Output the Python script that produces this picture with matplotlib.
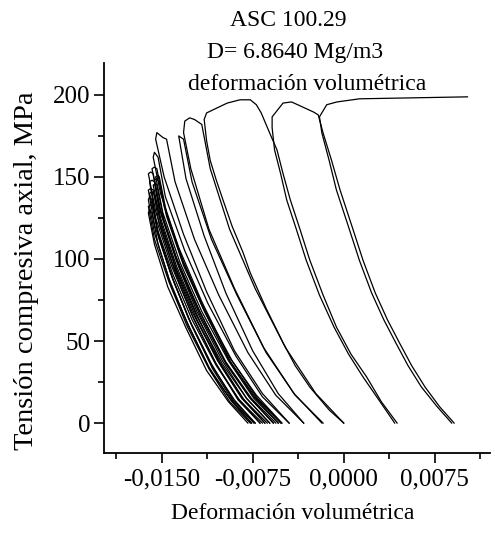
import matplotlib
matplotlib.use('Agg')
import matplotlib.pyplot as plt

# strain values are stored in units of 1e-4 (so -150 means -0,0150), stress in MPa
# early loading cycles (the dense bundle on the left)
bundle_eps = [
    [-79, -95, -113, -130, -145, -156, -161, -160, -158, -153, -142, -127, -110, -92, -76],
    [-77, -94, -111, -129, -144, -156, -161, -159, -157, -152, -140, -125, -108, -91, -74],
    [-76, -93, -111, -129, -144, -156, -161, -160, -158, -153, -141, -126, -108, -90, -73],
    [-73, -91, -109, -128, -143, -156, -161, -159, -157, -152, -139, -124, -105, -87, -69],
    [-69, -87, -106, -125, -142, -155, -160, -158, -156, -151, -138, -121, -102, -83, -65],
    [-67, -86, -105, -125, -141, -154, -160, -158, -156, -150, -137, -121, -101, -82, -63],
    [-65, -84, -104, -125, -142, -155, -161, -159, -157, -151, -138, -121, -100, -80, -61],
    [-61, -80, -100, -121, -138, -151, -157, -155, -154, -148, -135, -118, -97, -77, -58],
    [-58, -78, -99, -120, -138, -152, -158, -156, -154, -148, -134, -116, -95, -74, -54],
    [-56, -76, -97, -118, -136, -150, -156, -154, -152, -146, -132, -114, -93, -72, -52],
    [-54, -74, -95, -117, -135, -149, -155, -153, -152, -146, -132, -114, -92, -71, -51],
]
bundle_sig = [
    [0, 13, 32, 58, 83, 109, 128, 130, 128, 109, 83, 58, 32, 13, 0],
    [0, 13, 33, 59, 86, 112, 132, 133, 131, 112, 86, 59, 33, 13, 0],
    [0, 14, 34, 61, 88, 116, 136, 138, 136, 116, 88, 61, 34, 14, 0],
    [0, 14, 36, 64, 92, 121, 142, 143, 142, 121, 92, 64, 36, 14, 0],
    [0, 15, 37, 66, 96, 125, 147, 148, 147, 125, 96, 66, 37, 15, 0],
    [0, 14, 35, 63, 91, 119, 140, 141, 139, 119, 91, 63, 35, 14, 0],
    [0, 15, 38, 68, 99, 129, 152, 153, 152, 129, 99, 68, 38, 15, 0],
    [0, 15, 36, 65, 94, 123, 145, 146, 145, 123, 94, 65, 36, 15, 0],
    [0, 16, 39, 70, 101, 132, 155, 156, 155, 132, 101, 70, 39, 16, 0],
    [0, 15, 37, 67, 96, 126, 148, 149, 147, 126, 96, 67, 37, 15, 0],
    [0, 15, 38, 68, 98, 128, 150, 151, 150, 128, 98, 68, 38, 15, 0],
]

# middle cycles, peaks 165 .. 186 MPa
mid_eps = [
    [-51, -72, -95, -117, -136, -151, -157, -156, -153, -147, -131, -112, -89, -67, -45],
    [-45, -67, -90, -113, -132, -148, -155, -154, -149, -146, -139, -123, -103, -79, -56, -33],
    [-33, -54, -75, -97, -115, -130, -136, -134, -132, -125, -109, -88, -64, -40, -17],
    [-18, -41, -66, -90, -111, -126, -132, -131, -127, -123, -117, -110, -94, -73, -48, -23, 0],
]
mid_sig = [
    [0, 17, 41, 74, 107, 140, 162, 165, 162, 138, 105, 73, 41, 16, 0],
    [0, 18, 44, 80, 115, 150, 173, 177, 174, 173, 147, 112, 78, 43, 17, 0],
    [0, 18, 44, 79, 114, 149, 175, 174, 173, 147, 112, 78, 43, 17, 0],
    [0, 18, 46, 82, 118, 155, 177, 184, 186, 185, 182, 155, 118, 82, 46, 18, 0],
]

# last three cycles
cyc_a_eps = [0, -12, -28, -40, -50, -64, -77, -83, -92, -99.5, -105, -110, -113, -115,
             -113, -96, -85.5, -77, -72, -68,
             -64, -60, -55, -50, -44, -36, -28, -17, -6, 6, 19, 31, 44]
cyc_a_sig = [0, 8, 22, 35, 49, 70, 91.5, 104, 120, 136, 148, 160, 172, 185,
             189, 195, 197, 197, 194, 189,
             182, 175, 166.5, 152, 136, 118, 99.4, 78, 58.5, 42, 28, 13, 0]
cyc_b_eps = [42, 30, 16, 4, -8, -20, -31, -39, -47, -52, -57, -59, -59,
             -50, -43, -25, -21,
             -17, -10, -3, 7, 16, 26, 36, 46, 56, 67, 79, 91]
cyc_b_sig = [0, 13, 28, 42, 58.5, 78, 99.4, 118, 136, 152, 166.5, 180, 186.6,
             195, 195.7, 189.6, 187.8,
             176.8, 160, 142, 119.5, 99, 79.3, 63, 48.8, 35, 22, 10, 0]
cyc_c_eps = [89, 77, 64, 53, 43, 33, 23, 13, 4, -6, -12, -18, -20,
             -14, -5.5, 13, 102]
cyc_c_sig = [0, 10, 22, 35, 48.8, 63, 79.3, 99, 119.5, 142, 160, 176.8, 186.6,
             194, 195.7, 197.6, 198.8]

xtick_vals = [-150, -75, 0, 75]
xtick_labels = ['-0,0150', '-0,0075', '0,0000', '0,0075']
xtick_minor = [-187.5, -112.5, -37.5, 37.5, 112.5]
ytick_vals = [0, 50, 100, 150, 200]
ytick_minor = [25, 75, 125, 175]

plt.rcParams['font.family'] = ['Liberation Serif', 'DejaVu Serif']

fig = plt.figure(figsize=(4.95, 5.42), dpi=100)
ax = fig.add_axes([0.210, 0.164, 0.780, 0.720])

line_kw = dict(color='black', lw=0.9)
for xs, ys in zip(bundle_eps, bundle_sig):
    ax.plot(xs, ys, **line_kw)
for xs, ys in zip(mid_eps, mid_sig):
    ax.plot(xs, ys, **line_kw)
ax.plot(cyc_a_eps, cyc_a_sig, **line_kw)
ax.plot(cyc_b_eps, cyc_b_sig, **line_kw)
ax.plot(cyc_c_eps, cyc_c_sig, **line_kw)

ax.set_xlim(-197.6, 120.6)
ax.set_ylim(-18.3, 219.5)
ax.set_xticks(xtick_vals)
ax.set_xticklabels(xtick_labels)
ax.set_xticks(xtick_minor, minor=True)
ax.set_yticks(ytick_vals)
ax.set_yticks(ytick_minor, minor=True)

for side in ['top', 'right']:
    ax.spines[side].set_visible(False)
for side in ['left', 'bottom']:
    ax.spines[side].set_linewidth(1.3)
ax.tick_params(which='major', direction='out', length=7, width=1.2, labelsize=18)
ax.tick_params(which='minor', direction='out', length=4, width=1.2)
ax.tick_params(axis='x', pad=4)
ax.tick_params(axis='y', pad=3)

ax.set_xlabel('Deformación volumétrica', fontsize=17)
ax.xaxis.set_label_coords(0.490, -0.128)
ax.set_ylabel('Tensión compresiva axial, MPa', fontsize=20.5)
ax.yaxis.set_label_coords(-0.168, 0.467)

fig.text(0.582, 0.962, 'ASC 100.29', fontsize=17, ha='center', va='center')
fig.text(0.596, 0.904, 'D= 6.8640 Mg/m3', fontsize=17, ha='center', va='center')
fig.text(0.620, 0.845, 'deformación volumétrica', fontsize=17, ha='center', va='center')

fig.savefig('out.png', dpi=100)
